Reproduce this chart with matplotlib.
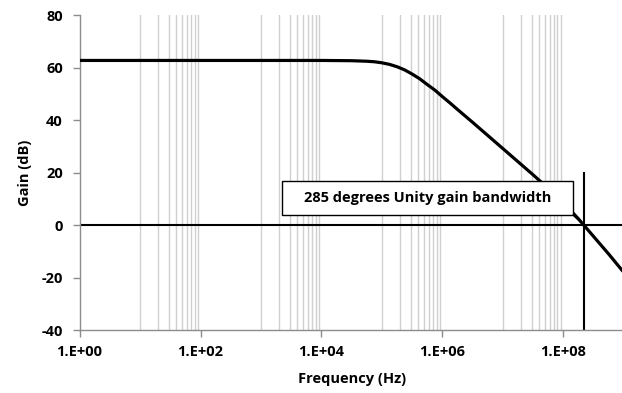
import matplotlib
matplotlib.use("Agg")
import matplotlib.pyplot as plt
from matplotlib.patches import Rectangle
import numpy as np

plt.rcParams["axes.unicode_minus"] = False

# Data
freq_hz = [1e0, 1e1, 1e2, 1e3, 1e4, 10**4.5, 10**4.75, 10**4.875, 1e5, 10**5.125,
           10**5.25, 10**5.375, 10**5.5, 10**5.625, 10**5.75, 10**5.875,
           1e6, 10**6.125, 10**6.25, 10**6.5, 10**6.75, 1e7, 10**7.25, 10**7.5, 10**7.75,
           1e8, 10**8.25, 10**8.5, 10**8.75, 1e9]
gain_db = [62.8, 62.8, 62.8, 62.8, 62.8, 62.7, 62.5, 62.3, 61.9, 61.3,
           60.4, 59.2, 57.6, 55.8, 53.6, 51.5,
           49.0, 46.6, 44.1, 39.2, 34.2, 29.2, 24.2, 19.2, 14.0,
           8.6, 2.4, -4.3, -11.0, -18.0]
unity_freq = 2.2e8
zero_line_x = [1e0, 1e9]
zero_line_y = [0, 0]
marker_y = [-40, 20]
annotation_text = "285 degrees Unity gain bandwidth"
x_ticks = [1e0, 1e2, 1e4, 1e6, 1e8]
x_tick_labels = ["1.E+00", "1.E+02", "1.E+04", "1.E+06", "1.E+08"]
y_ticks = [-40, -20, 0, 20, 40, 60, 80]

font = "Open Sans"
fs = 10.5
fig = plt.figure(figsize=(6.22, 3.93), dpi=100)
ax = fig.add_axes([0.128, 0.160, 1.0029 - 0.128, 0.961 - 0.160])

# vertical minor gridlines (1..9 within alternating decades)
for dec in [1, 3, 5, 7]:
    for m in range(1, 10):
        ax.axvline(m * 10**dec, color="#d0d0d0", lw=1.0, zorder=0)

ax.plot(zero_line_x, zero_line_y, color="black", lw=1.5, zorder=2)
ax.plot([unity_freq, unity_freq], marker_y, color="black", lw=1.5, zorder=2)
ax.plot(freq_hz, gain_db, color="black", lw=2.3, zorder=3, solid_capstyle="butt")

ax.set_xscale("log")
ax.set_xlim(1e0, 1e9)
ax.set_ylim(-40, 80)
ax.set_xticks(x_ticks)
ax.set_xticklabels(x_tick_labels)
ax.xaxis.set_minor_locator(matplotlib.ticker.NullLocator())
ax.set_yticks(y_ticks)

for s in ["top", "right"]:
    ax.spines[s].set_visible(False)
for s in ["left", "bottom"]:
    ax.spines[s].set_color("#8c8c8c")
    ax.spines[s].set_linewidth(1.0)
ax.tick_params(axis="both", which="major", direction="out", length=5, width=1,
               color="#8c8c8c", labelsize=fs)
ax.tick_params(axis="x", pad=6)
ax.tick_params(axis="y", pad=7)
for lbl in ax.get_xticklabels() + ax.get_yticklabels():
    lbl.set_fontfamily(font)
    lbl.set_fontweight("bold")

ax.set_xlabel("Frequency (Hz)", fontfamily=font, fontweight="bold", fontsize=fs, labelpad=9)
ax.set_ylabel("Gain (dB)", fontfamily=font, fontweight="bold", fontsize=fs, labelpad=7)

# annotation box
bx0, by0, bx1, by1 = 0.372, 0.3654, 0.9067, 0.4735
ax.add_patch(Rectangle((bx0, by0), bx1 - bx0, by1 - by0, transform=ax.transAxes,
                       fc="white", ec="black", lw=1.0, zorder=5))
ax.text((bx0 + bx1) / 2, (by0 + by1) / 2, annotation_text, transform=ax.transAxes,
        ha="center", va="center", fontfamily=font, fontweight="bold", fontsize=fs, zorder=6)
ax.annotate("", xy=(unity_freq, 0), xycoords="data", xytext=(bx1, by0),
            textcoords="axes fraction",
            arrowprops=dict(arrowstyle="-", color="black", lw=1.0, shrinkA=0, shrinkB=0),
            zorder=5)

fig.savefig("out.png", dpi=100)
